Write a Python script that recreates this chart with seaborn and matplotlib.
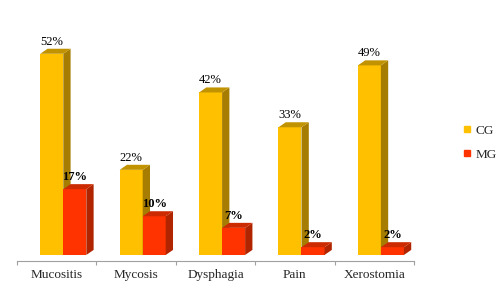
import numpy as np
import pandas as pd
import matplotlib
matplotlib.use('Agg')
import matplotlib.pyplot as plt
from matplotlib.patches import Polygon
from matplotlib.lines import Line2D
import seaborn as sns

symptoms = ['Mucositis', 'Mycosis', 'Dysphagia', 'Pain', 'Xerostomia']
cg = [52, 22, 42, 33, 49]
mg = [17, 10, 7, 2, 2]
groups = ['CG', 'MG']

df = pd.DataFrame({'symptom': symptoms * 2,
                   'group': ['CG'] * 5 + ['MG'] * 5,
                   'pct': cg + mg})

front = {'CG': '#FFC000', 'MG': '#FF3300'}
side = {'CG': '#A67D00', 'MG': '#B02400'}
top = {'CG': '#C29300', 'MG': '#CC2A00'}

sns.set_style('white')
plt.rcParams['font.family'] = ['Liberation Serif', 'DejaVu Serif']

fig = plt.figure(figsize=(5, 2.88), dpi=100)
ax = fig.add_axes([0.034, 0.095, 0.794, 0.905])
sns.barplot(data=df, x='symptom', y='pct', hue='group', palette=front,
            width=0.58, saturation=1, legend=False, ax=ax, linewidth=0)

# fake 3d: side and top faces on every bar
dx, dy = 0.092, 1.3
for k, (cont, g) in enumerate(zip(ax.containers, groups)):
    for bar in cont:
        z = 2 + k
        bar.set_zorder(z)
        x0 = bar.get_x(); w = bar.get_width(); h = bar.get_height()
        x1 = x0 + w
        ax.add_patch(Polygon([(x1, 0), (x1 + dx, dy), (x1 + dx, h + dy), (x1, h)],
                             closed=True, facecolor=side[g], lw=0, zorder=z))
        ax.add_patch(Polygon([(x0, h), (x0 + dx, h + dy), (x1 + dx, h + dy), (x1, h)],
                             closed=True, facecolor=top[g], lw=0, zorder=z))
        ax.annotate(f'{h:.0f}%', (x0 + w / 2, h), xytext=(0, 4.5),
                    textcoords='offset points', ha='center', va='bottom',
                    fontsize=9, fontweight='bold' if g == 'MG' else 'normal',
                    color='black', zorder=5)

ax.set_xlim(-0.583, 4.417)
ax.set_ylim(-1.47, 65.9)
ax.set_yticks([])
ax.set_xticks(np.arange(5) - 0.083)
ax.set_xticklabels(symptoms, fontsize=9.5)
ax.set_xticks(np.arange(6) - 0.583, minor=True)
ax.tick_params(axis='x', which='major', length=0, pad=6)
ax.tick_params(axis='x', which='minor', length=3, color='#A0A0A0', width=0.8,
               direction='out', bottom=True)
ax.set_xlabel('')
ax.set_ylabel('')
for s in ['top', 'right', 'left']:
    ax.spines[s].set_visible(False)
ax.spines['bottom'].set_color('#A0A0A0')
ax.spines['bottom'].set_linewidth(0.8)

handles = [Line2D([], [], marker='s', ls='', color=front[g], markersize=4.5) for g in groups]
fig.legend(handles, groups, loc='center left', bbox_to_anchor=(0.908, 0.505),
           frameon=False, fontsize=9.5, handletextpad=0.1, labelspacing=0.9,
           borderpad=0, handlelength=1)

fig.savefig('out.png', dpi=100)
